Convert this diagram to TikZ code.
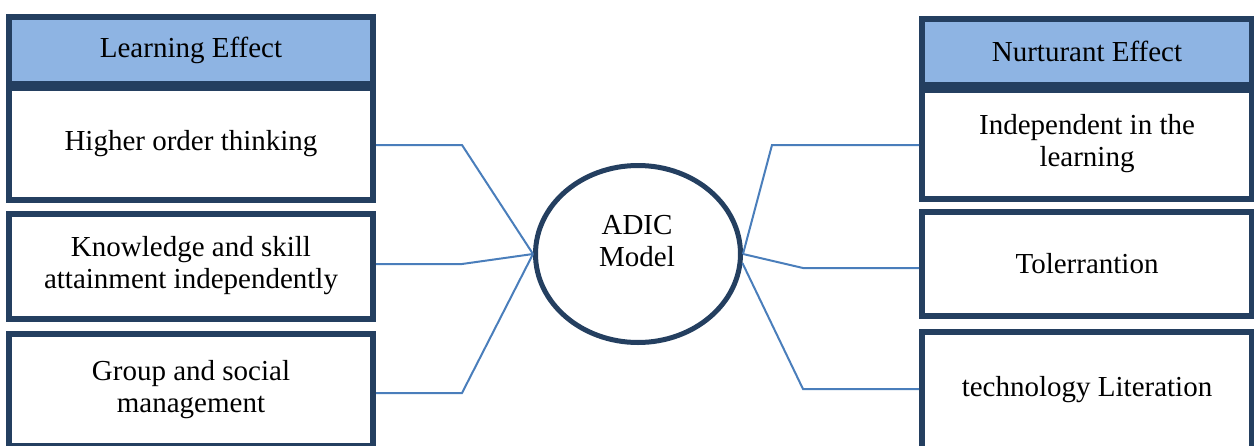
\documentclass[tikz,border=0pt]{standalone}
\usepackage{fontspec}
\setmainfont{Liberation Serif}
\usetikzlibrary{shapes.geometric}
\definecolor{boxdark}{HTML}{243F60}
\definecolor{headfill}{HTML}{8EB4E3}
\definecolor{linkblue}{HTML}{4A7EBB}
\begin{document}
\begin{tikzpicture}[x=0.5pt,y=-0.5pt,
  txt/.style={font=\fontsize{14.5}{16}\selectfont, align=center},
  box/.style={txt, draw=boxdark, line width=3pt, fill=white, inner sep=0pt},
  lbox/.style={box, minimum width=182pt},
  rbox/.style={box, minimum width=165pt},
  head/.style={fill=headfill},
  link/.style={draw=linkblue, line width=1pt},
  model/.style={ellipse, draw=boxdark, line width=2.5pt, fill=white, inner sep=0pt, minimum width=102.5pt, minimum height=88.5pt}]
\useasboundingbox (0,0) rectangle (1254,445);
\begin{scope}
\clip (0,0) rectangle (1254,445);
% left column
\node[lbox, head, minimum height=33.5pt] (lh) at (191,50.5) {Learning Effect};
\node[lbox, minimum height=56pt] (lb1) at (191,144) {Higher order thinking};
\node[lbox, minimum height=52.5pt] (lb2) at (191,266) {Knowledge and skill\\attainment independently};
\node[lbox, minimum height=56pt] (lb3) at (191,390) {Group and social\\management};
% right column
\node[rbox, head, minimum height=33.25pt] (rh) at (1087,51.75) {Nurturant Effect};
\node[rbox, minimum height=54.5pt] (rb1) at (1087,144) {Independent in the\\learning};
\node[rbox, minimum height=51.75pt] (rb2) at (1087,263.75) {Tolerrantion};
\node[rbox, minimum height=58.5pt] (rb3) at (1087,390) {technology Literation};
% centre
\node[model] (adic) at (638,254) {};
\node[txt] (adictxt) at (637,241) {ADIC\\Model};
% bends
\coordinate (l1k) at (462,145);
\coordinate (l2k) at (462,264);
\coordinate (l3k) at (462,393);
\coordinate (r1k) at (772,145);
\coordinate (r2k) at (803,268);
\coordinate (r3k) at (803,389);
\draw[link] (lb1.east |- l1k) -- (l1k) -- (adic.west);
\draw[link] (lb2.east |- l2k) -- (l2k) -- (adic.west);
\draw[link] (lb3.east |- l3k) -- (l3k) -- (adic.west);
\draw[link] (adic.east) -- (r1k) -- (rb1.west |- r1k);
\draw[link] (adic.east) -- (r2k) -- (rb2.west |- r2k);
\draw[link] (adic.-5) -- (r3k) -- (rb3.west |- r3k);
\end{scope}
\end{tikzpicture}
\end{document}
